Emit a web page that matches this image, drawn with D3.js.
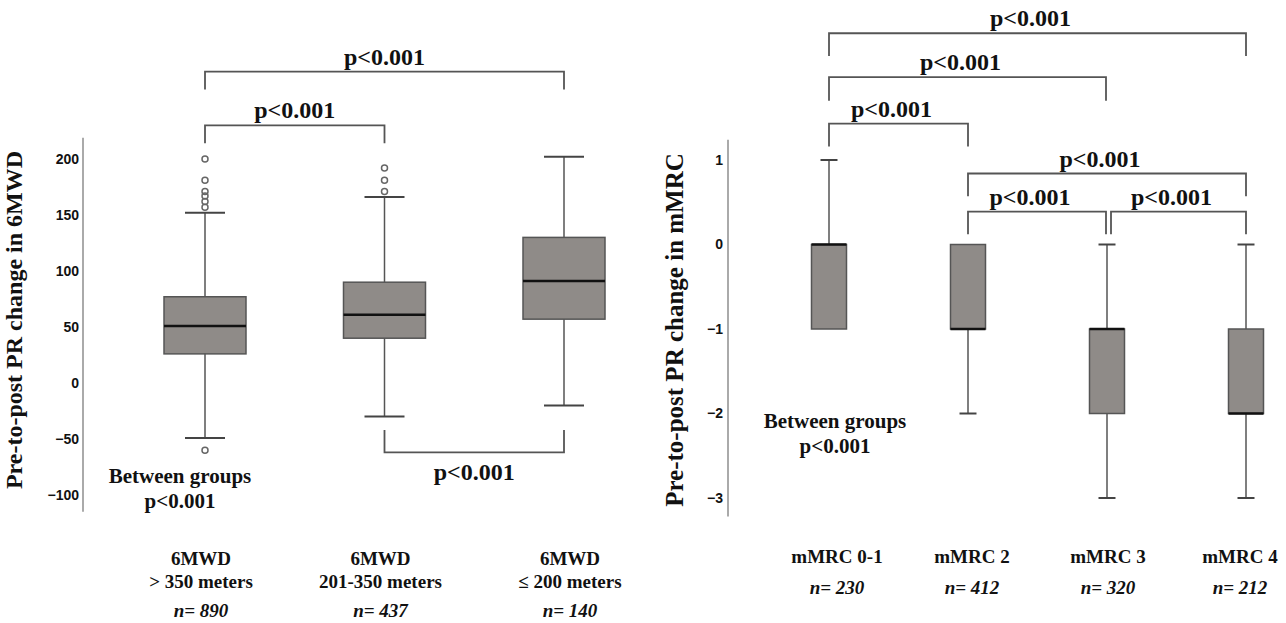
<!DOCTYPE html>
<html>
<head>
<meta charset="utf-8">
<script src="https://d3js.org/d3.v7.min.js"></script>
<style>
  body { margin: 0; background: #fff; }
  text { font-family: "Liberation Serif", "Times New Roman", serif; font-weight: bold; fill: #111; }
  .tick text { font-family: "Liberation Sans", Arial, sans-serif; font-size: 14px; font-weight: bold; }
</style>
</head>
<body>
<svg width="1286" height="623"></svg>
<script>
// ---- left panel: 6MWD change ----
const walkGroups = ["6MWD|> 350 meters", "6MWD|201-350 meters", "6MWD|\u2264 200 meters"];
const walkN = ["n= 890", "n= 437", "n= 140"];
const walkQ1 = [26, 40, 57];
const walkMed = [51, 61, 91];
const walkQ3 = [77, 90, 130];
const walkLo = [-49, -30, -20];
const walkHi = [152, 166, 202];
const walkOut = [[200, 181, 171, 167, 162, 157, -60], [192, 181, 171], []];
const walkTicks = [200, 150, 100, 50, 0, -50, -100];
// brackets: [from, to, level, drop]
const walkBrackets = [[0, 2, 278, 16], [0, 1, 230, 16], [1, 2, -62, -20]];

// ---- right panel: mMRC change ----
const mrcGroups = ["mMRC 0-1", "mMRC 2", "mMRC 3", "mMRC 4"];
const mrcN = ["n= 230", "n= 412", "n= 320", "n= 212"];
const mrcQ1 = [-1, -1, -2, -2];
const mrcMed = [0, -1, -1, -2];
const mrcQ3 = [0, 0, -1, -1];
const mrcLo = [-1, -2, -3, -3];
const mrcHi = [1, 0, 0, 0];
const mrcTicks = [1, 0, -1, -2, -3];
const mrcBrackets = [[0, 3, 2.5, 0.27], [0, 2, 1.98, 0.28], [0, 1, 1.43, 0.27], [1, 3, 0.84, 0.27], [1, 2, 0.39, 0.27], [2, 3, 0.39, 0.27]];

const svg = d3.select("svg");
const boxFill = "#8f8b88";

function panel(o) {
  const g = svg.append("g");
  const x = d3.scalePoint().domain(d3.range(o.groups.length)).range(o.xr);
  const y = d3.scaleLinear().domain(o.yd).range(o.yr);

  // axis
  g.append("line").attr("x1", o.axisX).attr("x2", o.axisX)
    .attr("y1", y(o.axisTop)).attr("y2", y(o.axisBot))
    .attr("stroke", "#aaa").attr("stroke-width", 2);
  const ax = g.append("g").attr("transform", "translate(" + o.axisX + ",0)")
    .call(d3.axisLeft(y).tickValues(o.ticks).tickFormat(d3.format("d")).tickSize(0).tickPadding(o.pad));
  ax.select(".domain").remove();

  g.append("text").attr("transform", "translate(" + o.titleX + "," + o.titleY + ") rotate(-90)")
    .attr("text-anchor", "middle").style("font-size", o.titleSize).text(o.title);

  const idx = d3.range(o.groups.length);
  // whiskers
  g.selectAll(".wh").data(idx).enter().append("line")
    .attr("x1", i => x(i)).attr("x2", i => x(i))
    .attr("y1", i => y(o.hi[i])).attr("y2", i => y(o.lo[i]))
    .attr("stroke", "#555").attr("stroke-width", 1.5);
  [o.hi, o.lo].forEach(arr => {
    g.selectAll(null).data(idx.filter(i => arr === o.hi ? o.hi[i] > o.q3[i] : o.lo[i] < o.q1[i])).enter().append("line")
      .attr("x1", i => x(i) - o.cap / 2).attr("x2", i => x(i) + o.cap / 2)
      .attr("y1", i => y(arr[i])).attr("y2", i => y(arr[i]))
      .attr("stroke", "#444").attr("stroke-width", 2);
  });
  // boxes
  g.selectAll(".box").data(idx).enter().append("rect")
    .attr("x", i => x(i) - o.bw / 2).attr("width", o.bw)
    .attr("y", i => y(o.q3[i])).attr("height", i => y(o.q1[i]) - y(o.q3[i]))
    .attr("fill", boxFill).attr("stroke", "#555").attr("stroke-width", 1.5);
  g.selectAll(".med").data(idx).enter().append("line")
    .attr("x1", i => x(i) - o.bw / 2).attr("x2", i => x(i) + o.bw / 2)
    .attr("y1", i => y(o.med[i])).attr("y2", i => y(o.med[i]))
    .attr("stroke", "#111").attr("stroke-width", 2.5);
  // outliers
  if (o.out) {
    idx.forEach(i => {
      g.selectAll(null).data(o.out[i]).enter().append("circle")
        .attr("cx", x(i)).attr("cy", d => y(d)).attr("r", 3)
        .attr("fill", "none").attr("stroke", "#666").attr("stroke-width", 1.5);
    });
  }
  // brackets
  o.brackets.forEach(b => {
    const xa = x(b[0]) + (o.shift ? o.shift(b, 0) : 0);
    const xb = x(b[1]) + (o.shift ? o.shift(b, 1) : 0);
    const yl = y(b[2]), ye = y(b[2] - b[3]);
    g.append("path").attr("d", "M" + xa + "," + ye + "V" + yl + "H" + xb + "V" + ye)
      .attr("fill", "none").attr("stroke", "#555").attr("stroke-width", 1.8);
    const below = b[3] < 0;
    g.append("text").attr("x", (xa + xb) / 2 + o.textDx).attr("y", below ? yl + 28 : yl - 7)
      .attr("text-anchor", "middle").style("font-size", "24px").text("p<0.001");
  });
  // between groups
  g.append("text").attr("x", o.bgX).attr("y", o.bgY).attr("text-anchor", "middle")
    .style("font-size", "21px").text("Between groups");
  g.append("text").attr("x", o.bgX).attr("y", o.bgY + 25).attr("text-anchor", "middle")
    .style("font-size", "21px").text("p<0.001");
  // category labels
  idx.forEach(i => {
    const lines = o.groups[i].split("|");
    lines.forEach((s, k) => {
      g.append("text").attr("x", x(i) + o.labDx[i]).attr("y", o.labY + k * 23)
        .attr("text-anchor", "middle").style("font-size", "19px").text(s);
    });
    g.append("text").attr("x", x(i) + o.labDx[i]).attr("y", o.nY)
      .attr("text-anchor", "middle").style("font-size", "19px").style("font-style", "italic").text(o.n[i]);
  });
}

panel({
  groups: walkGroups, n: walkN, q1: walkQ1, med: walkMed, q3: walkQ3, lo: walkLo, hi: walkHi, out: walkOut,
  ticks: walkTicks, brackets: walkBrackets,
  xr: [205, 564], yd: [-100, 200], yr: [495, 159], axisX: 83, axisTop: 219, axisBot: -115, pad: 4,
  title: "Pre-to-post PR change in 6MWD", titleX: 22, titleY: 320, titleSize: "24px",
  bw: 82, cap: 40, textDx: 0, bgX: 180, bgY: 483, labY: 565, nY: 617, labDx: [-4, -4, 6]
});

panel({
  groups: mrcGroups, n: mrcN, q1: mrcQ1, med: mrcMed, q3: mrcQ3, lo: mrcLo, hi: mrcHi, out: null,
  ticks: mrcTicks, brackets: mrcBrackets,
  xr: [829, 1246], yd: [-3, 1], yr: [498, 160], axisX: 728, axisTop: 1.24, axisBot: -3.22, pad: 5,
  title: "Pre-to-post  PR change in mMRC", titleX: 683, titleY: 330, titleSize: "25px",
  bw: 35, cap: 17, textDx: -7, bgX: 835, bgY: 428, labY: 563, nY: 594, labDx: [8, 4, 1, -6],
  shift: (b, end) => (b[end] === 2 ? (end === 1 ? -1 : 4) : 0)
});
</script>
</body>
</html>
